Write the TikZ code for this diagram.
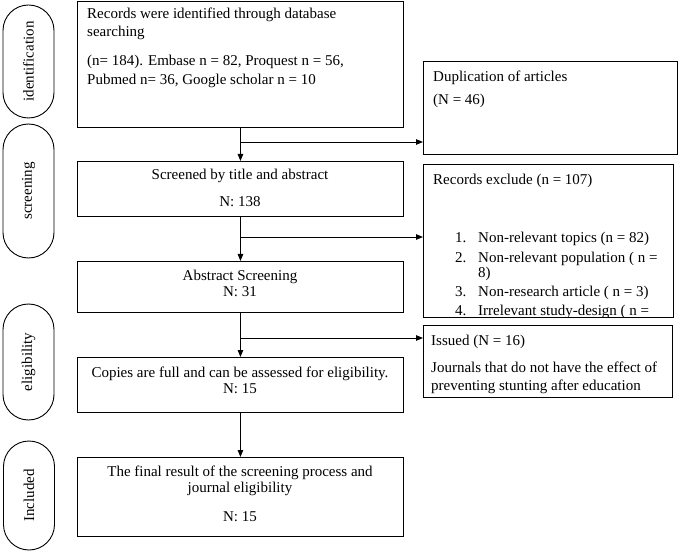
\documentclass[tikz,border=0pt]{standalone}
\usepackage{fontspec}
\setmainfont{Liberation Serif}
\usetikzlibrary{arrows.meta,shapes.misc}
\begin{document}
\begin{tikzpicture}[x=1pt,y=-1pt,
  every node/.style={font=\fontsize{15}{18}\selectfont},
  box/.style={draw, line width=0.9pt, inner sep=0pt, anchor=north west},
  stage/.style={draw, line width=0.9pt, rounded rectangle, rotate=90, inner sep=0pt},
  txt/.style={inner sep=0pt, anchor=base west},
  ctxt/.style={inner sep=0pt, anchor=base},
  arr/.style={line width=0.9pt, -{Triangle[length=7pt,width=5.5pt]}}]
\useasboundingbox (0,0) rectangle (685,553);

% stage labels
\node[stage, minimum width=113pt, minimum height=51pt] (s1) at (28.5,61.5) {identification};
\node[stage, minimum width=134pt, minimum height=51pt] (s2) at (28.5,191) {screening};
\node[stage, minimum width=116pt, minimum height=51pt] (s3) at (28.5,362) {eligibility};
\node[stage, minimum width=109pt, minimum height=51pt] (s4) at (29,495.5) {Included};

% main boxes
\node[box, minimum width=326pt, minimum height=126pt] (b1) at (77,1) {};
\node[box, minimum width=326pt, minimum height=55pt] (b2) at (77,161) {};
\node[box, minimum width=326pt, minimum height=51pt] (b3) at (77,261) {};
\node[box, minimum width=326pt, minimum height=55pt] (b4) at (77,357) {};
\node[box, minimum width=326pt, minimum height=79pt] (b5) at (77,457) {};

\node[txt] (t11) at (87,19) {Records were identified through database};
\node[txt] (t12) at (87,37) {searching};
\node[txt] (t13) at (87,66) {(n= 184). Embase n = 82, Proquest n = 56,};
\node[txt] (t14) at (87,85) {Pubmed n= 36, Google scholar n = 10};

\node[ctxt] (t21) at (240,180) {Screened by title and abstract};
\node[ctxt] (t22) at (240,207) {N: 138};
\node[ctxt] (t31) at (240,280) {Abstract Screening};
\node[ctxt] (t32) at (240,297) {N: 31};
\node[ctxt] (t41) at (240,377) {Copies are full and can be assessed for eligibility.};
\node[ctxt] (t42) at (240,393) {N: 15};
\node[ctxt] (t51) at (240,476) {The final result of the screening process and};
\node[ctxt] (t52) at (240,492) {journal eligibility};
\node[ctxt] (t53) at (240,521) {N: 15};

% right boxes
\node[box, minimum width=254pt, minimum height=93pt] (d) at (423,61) {};
\node[txt] (dt1) at (433,82) {Duplication of articles};
\node[txt] (dt2) at (433,105) {(N = 46)};

\node[box, minimum width=250pt, minimum height=153pt] (r) at (423,164) {};
\begin{scope}
\clip (423,164) rectangle (673,317);
\node[txt] (rt0) at (433,185) {Records exclude (n = 107)};
\node[txt] (rn1) at (455,243) {1.};
\node[txt] (ri1) at (478,243) {Non-relevant topics (n = 82)};
\node[txt] (rn2) at (455,263) {2.};
\node[txt] (ri2) at (478,263) {Non-relevant population ( n =};
\node[txt] (ri2b) at (478,277) {8)};
\node[txt] (rn3) at (455,296) {3.};
\node[txt] (ri3) at (478,296) {Non-research article ( n = 3)};
\node[txt] (rn4) at (455,316) {4.};
\node[txt] (ri4) at (478,316) {Irrelevant study-design ( n =};
\end{scope}

\node[box, minimum width=249pt, minimum height=72pt] (i) at (423,325) {};
\node[txt] (it1) at (431,345) {Issued (N = 16)};
\node[txt] (it2) at (431,372) {Journals that do not have the effect of};
\node[txt] (it3) at (431,390) {preventing stunting after education};

% connectors
\draw[arr] (b1.south) -- (b2.north);
\draw[arr] (b2.south) -- (b3.north);
\draw[arr] (b3.south) -- (b4.north);
\draw[arr] (b4.south) -- (b5.north);

\coordinate (j1) at (240,142);
\coordinate (j2) at (240,237);
\coordinate (j3) at (240,338);
\draw[arr] (j1) -- (j1 -| d.west);
\draw[arr] (j2) -- (j2 -| r.west);
\draw[arr] (j3) -- (j3 -| i.west);
\end{tikzpicture}
\end{document}
